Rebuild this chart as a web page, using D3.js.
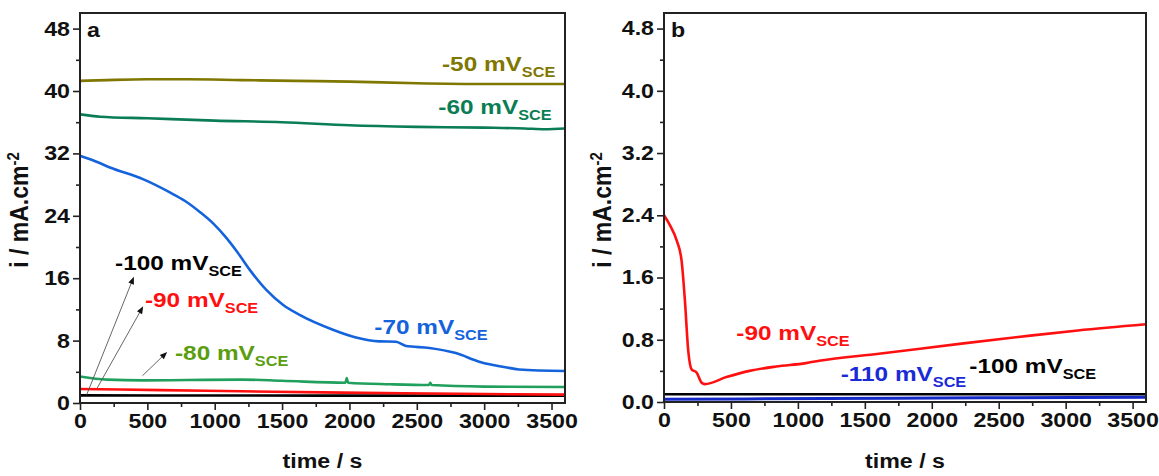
<!DOCTYPE html>
<html>
<head>
<meta charset="utf-8">
<script src="https://cdn.jsdelivr.net/npm/d3@7"></script>
<style>
  body { margin: 0; background: #fff; }
  svg { font-family: "Liberation Sans", Arial, sans-serif; font-weight: bold; }
</style>
</head>
<body>
<div class="chart"></div>
<script>
// panel a, potentiostatic current at several potentials
var tA50 = [0, 200, 500, 800, 1200, 1600, 2000, 2500, 3000, 3600];
var iA50 = [41.3, 41.4, 41.5, 41.5, 41.4, 41.3, 41.2, 41.0, 40.9, 40.9];
var tA60 = [0, 150, 500, 1000, 1500, 2000, 2500, 3000, 3300, 3450, 3600];
var iA60 = [37.0, 36.7, 36.5, 36.2, 36.0, 35.6, 35.4, 35.3, 35.2, 35.1, 35.2];
var tA70 = [0, 100, 222, 467, 667, 780, 889, 990, 1080, 1170, 1259, 1383, 1506, 1630, 1877, 2049, 2222, 2346, 2420, 2593, 2790, 2963, 3185, 3259, 3600];
var iA70 = [31.7, 31.1, 30.2, 28.7, 27.0, 25.9, 24.5, 23.0, 21.3, 19.3, 17.1, 14.5, 12.6, 11.3, 9.4, 8.4, 7.9, 7.85, 7.3, 7.06, 6.4, 5.3, 4.5, 4.3, 4.1];
var tA80 = [0, 200, 467, 800, 1200, 1500, 1970, 1980, 1990, 2300, 2590, 2600, 2610, 3000, 3600];
var iA80 = [3.4, 3.0, 2.9, 2.95, 3.0, 2.85, 2.6, 3.2, 2.6, 2.4, 2.3, 2.6, 2.3, 2.1, 2.05];
var tA90 = [0, 600, 1200, 1800, 2400, 3000, 3600];
var iA90 = [1.8, 1.65, 1.5, 1.36, 1.25, 1.15, 1.08];
var tA100 = [0, 1200, 2400, 3600];
var iA100 = [0.98, 0.96, 0.94, 0.92];

// panel b
var tB90 = [0, 45, 94, 131, 156, 181, 206, 243, 280, 305, 466, 639, 837, 1060, 1159, 1605, 2222, 2719, 3091, 3600];
var iB90 = [2.40, 2.27, 2.08, 1.82, 1.31, 0.66, 0.42, 0.38, 0.25, 0.23, 0.32, 0.40, 0.456, 0.50, 0.53, 0.62, 0.75, 0.85, 0.92, 1.0];
var tB100 = [0, 1800, 3600];
var iB100 = [0.10, 0.10, 0.10];
var tB110 = [0, 1200, 2400, 3600];
var iB110 = [0.035, 0.045, 0.055, 0.06];

var xTicks = [0, 500, 1000, 1500, 2000, 2500, 3000, 3500];
var yTicksA = [0, 8, 16, 24, 32, 40, 48];
var yTicksB = [0, 0.8, 1.6, 2.4, 3.2, 4.0, 4.8];

var W = 1159, H = 476;
var SX = 1.16; // the source figure's text is a bit wide
var svg = d3.select(".chart").append("svg")
    .attr("width", W).attr("height", H)
    .attr("viewBox", [0, 0, W, H]);

function zip(t, v) { return t.map(function(d, i){ return [d, v[i]]; }); }
function at(x, y) { return "translate(" + x + "," + y + ") scale(" + SX + ",1)"; }

function panel(opt) {
    var x = d3.scaleLinear().domain([0, 3600]).range([opt.left, opt.right]);
    var y = d3.scaleLinear().domain([0, opt.ymax]).range([opt.bottom, opt.top]);
    var g = svg.append("g");

    // minor ticks
    var xMinor = d3.range(250, 3600, 500);
    var yStep = opt.yTicks[1] - opt.yTicks[0];
    var yMinor = opt.yTicks.map(function(d){ return d + yStep / 2; })
        .filter(function(d){ return d < opt.ymax; });
    g.append("g").attr("transform", "translate(0," + opt.bottom + ")")
        .call(d3.axisBottom(x).tickValues(xMinor).tickSize(4).tickFormat(""))
        .call(function(a){ a.select(".domain").remove(); });
    g.append("g").attr("transform", "translate(" + opt.left + ",0)")
        .call(d3.axisLeft(y).tickValues(yMinor).tickSize(4).tickFormat(""))
        .call(function(a){ a.select(".domain").remove(); });

    var xa = g.append("g").attr("transform", "translate(0," + opt.bottom + ")")
        .call(d3.axisBottom(x).tickValues(xTicks).tickSize(7).tickPadding(4).tickFormat(d3.format("d")));
    var ya = g.append("g").attr("transform", "translate(" + opt.left + ",0)")
        .call(d3.axisLeft(y).tickValues(opt.yTicks).tickSize(7).tickPadding(3).tickFormat(opt.fmt));
    [xa, ya].forEach(function(a){
        a.select(".domain").remove();
        a.selectAll("text").attr("fill", "#111").style("font-size", "20px").style("font-weight", "bold")
            .style("font-family", "'Liberation Sans', Arial, sans-serif")
            .attr("transform", "scale(" + SX + ",1)");
    });
    ya.selectAll("text").attr("x", -10 / SX);
    g.selectAll(".tick line").attr("stroke", "#222").attr("stroke-width", 1.6);

    // curves
    var line = d3.line().curve(d3.curveMonotoneX)
        .x(function(d){ return x(d[0]); }).y(function(d){ return y(d[1]); });
    opt.series.forEach(function(s){
        g.append("path").datum(zip(s.t, s.v))
            .attr("fill", "none").attr("stroke", s.color)
            .attr("stroke-width", s.w || 2.6).attr("stroke-linejoin", "round")
            .attr("d", line);
    });

    // frame
    g.append("rect").attr("x", opt.left).attr("y", opt.top)
        .attr("width", opt.right - opt.left).attr("height", opt.bottom - opt.top)
        .attr("fill", "none").attr("stroke", "#222").attr("stroke-width", 2);

    // arrows
    (opt.arrows || []).forEach(function(a){
        var x1 = x(a[0]), y1 = y(a[1]), x2 = x(a[2]), y2 = y(a[3]);
        var ang = Math.atan2(y2 - y1, x2 - x1), L = 8, s = 0.38;
        g.append("line").attr("x1", x1).attr("y1", y1).attr("x2", x2 - Math.cos(ang) * 4).attr("y2", y2 - Math.sin(ang) * 4)
            .attr("stroke", "#555").attr("stroke-width", 0.9);
        g.append("path").attr("fill", "#111")
            .attr("d", "M" + x2 + "," + y2 +
                "L" + (x2 - L * Math.cos(ang - s)) + "," + (y2 - L * Math.sin(ang - s)) +
                "L" + (x2 - L * Math.cos(ang + s)) + "," + (y2 - L * Math.sin(ang + s)) + "Z");
    });

    // labels
    opt.labels.forEach(function(l){
        var t = g.append("text").attr("transform", at(x(l.t), y(l.v)))
            .attr("fill", l.color).style("font-size", "21px");
        t.append("tspan").text(l.text);
        t.append("tspan").attr("dy", 6).style("font-size", "14px").text("SCE");
    });

    // panel letter
    g.append("text").attr("transform", at(opt.left + 7, opt.top + 24))
        .style("font-size", "20px").attr("fill", "#111").text(opt.letter);

    // axis titles
    g.append("text").attr("transform", at((opt.left + opt.right) / 2, 468))
        .attr("text-anchor", "middle").style("font-size", "20px").attr("fill", "#111")
        .text("time / s");
    var yt = g.append("text").attr("transform", "translate(" + opt.ytx + "," + 210 + ") rotate(-90) scale(1," + SX + ")")
        .attr("text-anchor", "middle").style("font-size", "23px").attr("fill", "#111");
    yt.append("tspan").text("i / mA.cm");
    yt.append("tspan").attr("dy", -8).style("font-size", "15px").text("-2");
}

panel({
    left: 80, right: 565, top: 13, bottom: 403, ymax: 50,
    yTicks: yTicksA, fmt: d3.format("d"), letter: "a", ytx: 28,
    series: [
        {t: tA100, v: iA100, color: "#000000"},
        {t: tA90, v: iA90, color: "#ff1010"},
        {t: tA80, v: iA80, color: "#20a05c"},
        {t: tA70, v: iA70, color: "#1463dc"},
        {t: tA60, v: iA60, color: "#0b7d55"},
        {t: tA50, v: iA50, color: "#7f7700"}
    ],
    arrows: [[50, 1.07, 400, 16.2], [128, 1.93, 469, 12.4], [464, 3.5, 647, 6.55]],
    labels: [
        {t: 2687, v: 42.6, text: "-50 mV", color: "#7f7700"},
        {t: 2660, v: 37.0, text: "-60 mV", color: "#0b7d55"},
        {t: 2185, v: 8.8, text: "-70 mV", color: "#1463dc"},
        {t: 705, v: 5.45, text: "-80 mV", color: "#5a9e10"},
        {t: 482, v: 12.3, text: "-90 mV", color: "#ff1010"},
        {t: 260, v: 17.1, text: "-100 mV", color: "#000000"}
    ]
});

panel({
    left: 664, right: 1146, top: 13, bottom: 402, ymax: 5,
    yTicks: yTicksB, fmt: d3.format(".1f"), letter: "b", ytx: 611,
    series: [
        {t: tB100, v: iB100, color: "#000000", w: 2.4},
        {t: tB110, v: iB110, color: "#1428c8", w: 3},
        {t: tB90, v: iB90, color: "#ff1010"}
    ],
    labels: [
        {t: 540, v: 0.80, text: "-90 mV", color: "#ff1010"},
        {t: 1320, v: 0.27, text: "-110 mV", color: "#1a2ad6"},
        {t: 2280, v: 0.375, text: "-100 mV", color: "#000000"}
    ]
});
</script>
</body>
</html>
